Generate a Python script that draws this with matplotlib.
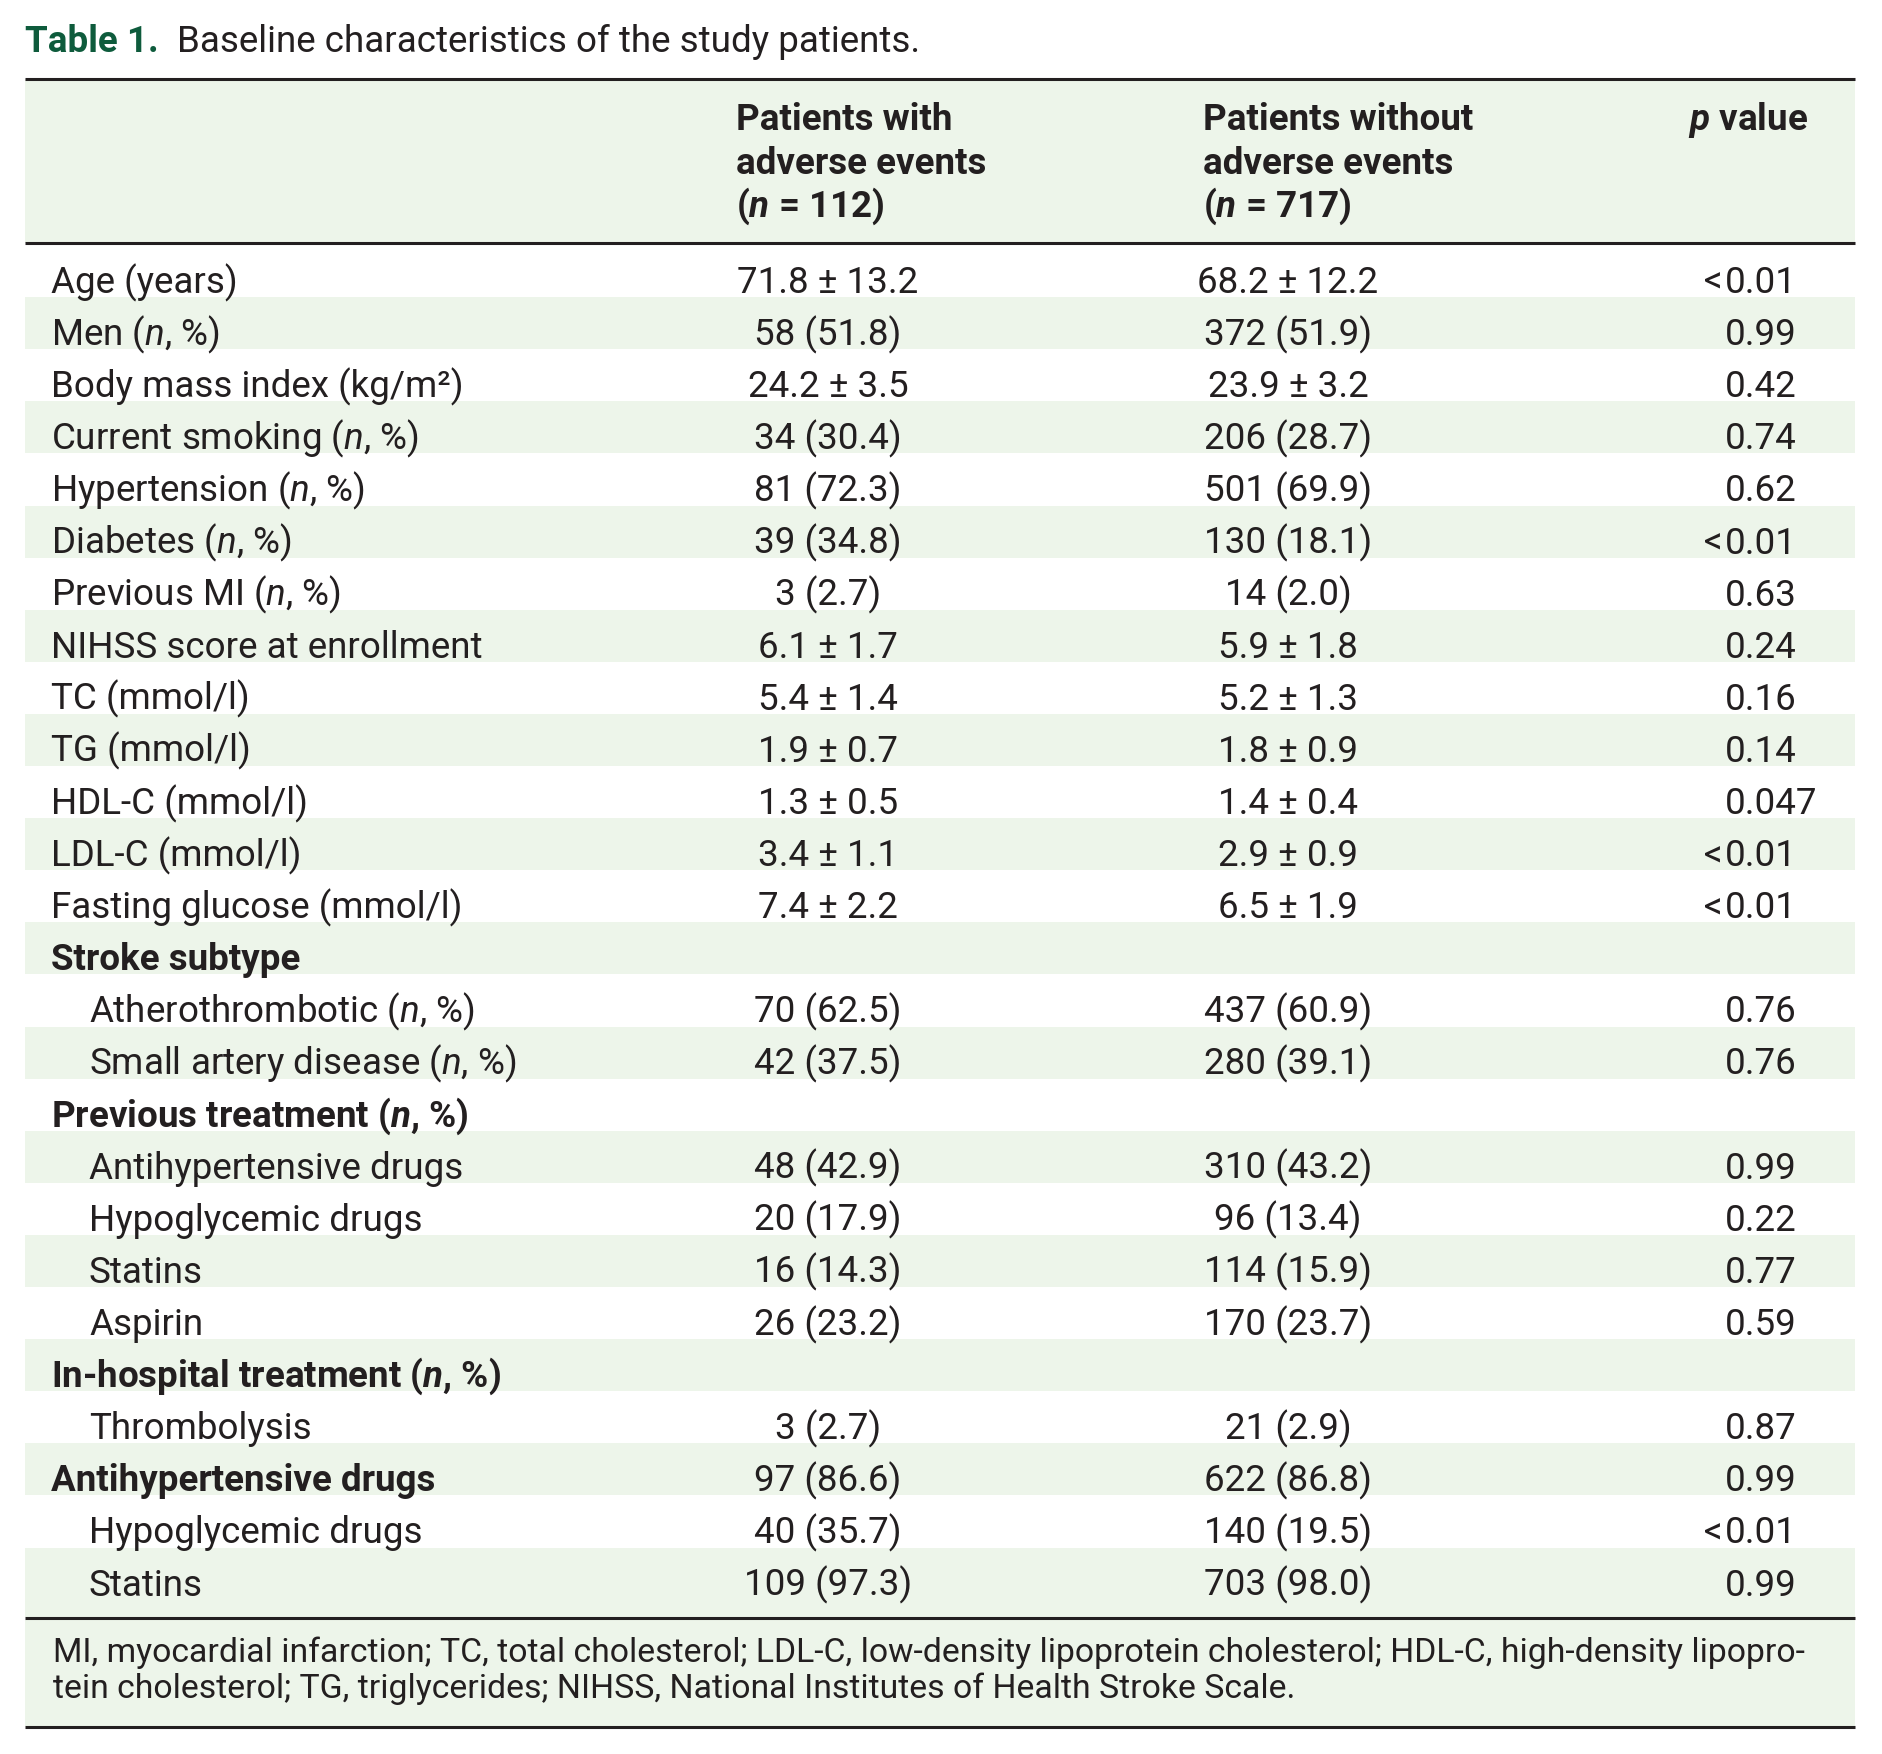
import matplotlib
matplotlib.use('Agg')
import matplotlib.pyplot as plt
from matplotlib.patches import Rectangle

TITLE_NUM = 'Table 1.'
TITLE = 'Baseline characteristics of the study patients.'

HEAD_1 = ['Patients with', 'adverse events', r'($\mathbfit{n}$ = 112)']
HEAD_2 = ['Patients without', 'adverse events', r'($\mathbfit{n}$ = 717)']
HEAD_P = r'$\mathbfit{p}$ value'

LABELS = [
    'Age (years)', r'Men ($n$, %)', 'Body mass index (kg/m²)', r'Current smoking ($n$, %)',
    r'Hypertension ($n$, %)', r'Diabetes ($n$, %)', r'Previous MI ($n$, %)', 'NIHSS score at enrollment',
    'TC (mmol/l)', 'TG (mmol/l)', 'HDL-C (mmol/l)', 'LDL-C (mmol/l)', 'Fasting glucose (mmol/l)',
    'Stroke subtype', r'Atherothrombotic ($n$, %)', r'Small artery disease ($n$, %)',
    r'Previous treatment ($\mathbfit{n}$, %)', 'Antihypertensive drugs', 'Hypoglycemic drugs',
    'Statins', 'Aspirin', r'In-hospital treatment ($\mathbfit{n}$, %)', 'Thrombolysis',
    'Antihypertensive drugs', 'Hypoglycemic drugs', 'Statins',
]
# 0 = normal, 1 = bold heading, 2 = indented
LEVEL = [0] * 13 + [1, 2, 2, 1, 2, 2, 2, 2, 1, 2, 1, 2, 2]

WITH_AE = [
    '71.8 ± 13.2', '58 (51.8)', '24.2 ± 3.5', '34 (30.4)', '81 (72.3)', '39 (34.8)', '3 (2.7)',
    '6.1 ± 1.7', '5.4 ± 1.4', '1.9 ± 0.7', '1.3 ± 0.5', '3.4 ± 1.1', '7.4 ± 2.2', '',
    '70 (62.5)', '42 (37.5)', '', '48 (42.9)', '20 (17.9)', '16 (14.3)', '26 (23.2)', '',
    '3 (2.7)', '97 (86.6)', '40 (35.7)', '109 (97.3)',
]
WITHOUT_AE = [
    '68.2 ± 12.2', '372 (51.9)', '23.9 ± 3.2', '206 (28.7)', '501 (69.9)', '130 (18.1)', '14 (2.0)',
    '5.9 ± 1.8', '5.2 ± 1.3', '1.8 ± 0.9', '1.4 ± 0.4', '2.9 ± 0.9', '6.5 ± 1.9', '',
    '437 (60.9)', '280 (39.1)', '', '310 (43.2)', '96 (13.4)', '114 (15.9)', '170 (23.7)', '',
    '21 (2.9)', '622 (86.8)', '140 (19.5)', '703 (98.0)',
]
P_VALUES = [
    '<0.01', '0.99', '0.42', '0.74', '0.62', '<0.01', '0.63', '0.24', '0.16', '0.14', '0.047',
    '<0.01', '<0.01', '', '0.76', '0.76', '', '0.99', '0.22', '0.77', '0.59', '', '0.87',
    '0.99', '<0.01', '0.99',
]

FOOTNOTE = [
    'MI, myocardial infarction; TC, total cholesterol; LDL-C, low-density lipoprotein cholesterol; HDL-C, high-density lipopro-',
    'tein cholesterol; TG, triglycerides; NIHSS, National Institutes of Health Stroke Scale.',
]

plt.rcParams['font.family'] = ['Roboto', 'DejaVu Sans']
plt.rcParams['mathtext.fontset'] = 'custom'
plt.rcParams['mathtext.rm'] = 'Roboto'
plt.rcParams['mathtext.it'] = 'Roboto:italic'
plt.rcParams['mathtext.bf'] = 'Roboto:bold'
plt.rcParams['mathtext.bfit'] = 'Roboto:italic:bold'

INK = '#231f20'
GREEN = '#0e5b3c'
SHADE = '#edf5ea'
W, H = 1882, 1754
X0, X1 = 25, 1855
FS = 26.5
FS_NOTE = 24.3
ROW0, ROW_H = 293, 52.1

fig = plt.figure(figsize=(W / 100, H / 100), dpi=100)
fig.set_facecolor('white')
ax = fig.add_axes([0, 0, 1, 1])
ax.set_xlim(0, W)
ax.set_ylim(H, 0)
ax.axis('off')

# title
ax.text(X0, 52, TITLE_NUM, color=GREEN, fontsize=26.5, fontweight='bold', va='baseline')
ax.text(177, 52, TITLE, color=INK, fontsize=26.5, va='baseline')

# header block
ax.add_patch(Rectangle((X0, 79), X1 - X0, 243 - 79, color=SHADE, lw=0))
for k, (a, b) in enumerate(zip(HEAD_1, HEAD_2)):
    y = 130 + k * 43.5
    ax.text(736, y, a, color=INK, fontsize=FS, fontweight='bold', va='baseline')
    ax.text(1203, y, b, color=INK, fontsize=FS, fontweight='bold', va='baseline')
ax.text(1808, 130, HEAD_P, color=INK, fontsize=FS, fontweight='bold', va='baseline', ha='right')

# body rows
n = len(LABELS)
for i in range(n):
    top = 245 + i * ROW_H
    bot = top + ROW_H
    if i == n - 1:
        bot = 1617
    if i % 2 == 1:
        ax.add_patch(Rectangle((X0, top), X1 - X0, bot - top, color=SHADE, lw=0))
    y = ROW0 + i * ROW_H
    x = 89 if LEVEL[i] == 2 else 51
    ax.text(x, y, LABELS[i], color=INK, fontsize=FS, va='baseline',
            fontweight='bold' if LEVEL[i] == 1 else 'normal')
    ax.text(828, y, WITH_AE[i], color=INK, fontsize=FS, va='baseline', ha='center')
    ax.text(1288, y, WITHOUT_AE[i], color=INK, fontsize=FS, va='baseline', ha='center')
    p = P_VALUES[i]
    if p:
        if p.startswith('<'):
            ax.text(1722, y, '<', color=INK, fontsize=FS, va='baseline', ha='right')
            p = p[1:]
        ax.text(1725, y, p, color=INK, fontsize=FS, va='baseline', ha='left')

# footnote
ax.add_patch(Rectangle((X0, 1620), X1 - X0, 1726 - 1620, color=SHADE, lw=0))
for k, line in enumerate(FOOTNOTE):
    ax.text(53, 1662 + k * 36, line, color=INK, fontsize=FS_NOTE, va='baseline')

# rules
ax.hlines([79, 243, 1618, 1727], X0, X1, color=INK, lw=2.2)

fig.savefig('out.png', dpi=100)
